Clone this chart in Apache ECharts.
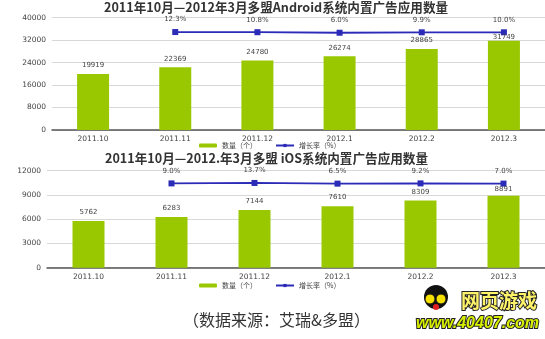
<!DOCTYPE html>
<html><head><meta charset="utf-8">
<script src="https://cdn.jsdelivr.net/npm/echarts@6/dist/echarts.min.js"></script>
<style>html,body{margin:0;padding:0;background:#fff}#c{width:545px;height:339px}</style>
</head><body><div id="c"></div>
<script>
const categories = ['2011.10','2011.11','2011.12','2012.1','2012.2','2012.3'];
const androidCounts = [19919,22369,24780,26274,28865,31749];
const androidGrowth = [null,12.3,10.8,6.0,9.9,10.0];
const iosCounts = [5762,6283,7144,7610,8309,8891];
const iosGrowth = [null,9.0,13.7,6.5,9.2,7.0];
const androidAxis = {min:0,max:40000,interval:8000};
const iosAxis = {min:0,max:12000,interval:3000};
const titleTop = '2011年10月—2012年3月多盟Android系统内置广告应用数量';
const titleBottom = '2011年10月—2012.年3月多盟 iOS系统内置广告应用数量';
const legendNames = ['数量（个）','增长率（%）'];
const sourceText = '（数据来源：艾瑞&多盟）';

const FONT = 'DejaVu Sans';
const CJK = 'Noto Sans CJK SC';
const GREEN = '#99c800';
const BLUE = '#2b2bb8';

function xAx(gi){
  return {type:'category',gridIndex:gi,data:categories,
    axisLine:{lineStyle:{color:'#555',width:1.5}},axisTick:{show:false},
    axisLabel:{color:'#444',fontSize:7.5,fontFamily:FONT,margin:5}};
}
function yAx(gi,a){
  return {type:'value',gridIndex:gi,min:a.min,max:a.max,interval:a.interval,
    axisLine:{show:false},axisTick:{show:false},
    axisLabel:{color:'#444',fontSize:7.5,fontFamily:FONT,margin:6,formatter:v=>String(v)},
    splitLine:{lineStyle:{color:'#d8d8d8',width:1}}};
}
function hidAx(gi){
  return {type:'value',gridIndex:gi,show:false,min:-860,max:140,splitLine:{show:false}};
}
function barS(xi,yi,d,lastDist){
  const items = d.map((v,i)=> i===d.length-1 ? {value:v,label:{distance:lastDist}} : v);
  return {name:legendNames[0],type:'bar',xAxisIndex:xi,yAxisIndex:yi,data:items,barWidth:32,z:5,
    itemStyle:{color:GREEN},
    label:{show:true,position:'top',distance:5,color:'#444',fontSize:7,fontFamily:FONT}};
}
function lineS(xi,yi,d){
  return {name:legendNames[1],type:'line',xAxisIndex:xi,yAxisIndex:yi,data:d,z:1,
    symbol:'rect',symbolSize:6,lineStyle:{color:BLUE,width:1.8},itemStyle:{color:BLUE},
    label:{show:true,position:'top',distance:6,color:'#444',fontSize:7,fontFamily:FONT,
      formatter:p=>p.value==null?'':p.value.toFixed(1)+'%'}};
}
function legend(top){
  return {left:199,top:top,padding:0,itemWidth:18,itemHeight:4,itemGap:18,data:legendNames,
    textStyle:{fontSize:7,color:'#444',fontFamily:CJK}};
}
const chart = echarts.init(document.getElementById('c'),null,{renderer:'canvas'});
chart.setOption({
  animation:false,
  title:[
    {text:titleTop,left:104,top:1,padding:0,textStyle:{fontSize:12.6,fontWeight:'bold',color:'#333',fontFamily:CJK}},
    {text:titleBottom,left:105,top:152,padding:0,textStyle:{fontSize:12.6,fontWeight:'bold',color:'#333',fontFamily:CJK}}
  ],
  legend:[legend(142),legend(282)],
  grid:[
    {left:52,top:17.7,width:494,height:112.3},
    {left:47,top:170.7,width:500,height:97}
  ],
  xAxis:[xAx(0),xAx(1)],
  yAxis:[yAx(0,androidAxis),hidAx(0),yAx(1,iosAxis),hidAx(1)],
  series:[barS(0,0,androidCounts,0),lineS(0,1,androidGrowth),barS(1,2,iosCounts,3),lineS(1,3,iosGrowth)],
  graphic:[
    {type:'text',left:183,top:312,style:{text:sourceText,fontSize:16,fill:'#333',fontFamily:CJK}},
    {type:'group',left:415,top:285,children:[
      {type:'circle',shape:{cx:18,cy:13,r:12},style:{fill:'#111'}},
      {type:'circle',shape:{cx:12,cy:15,r:5},style:{fill:'#f5e000',stroke:'#111',lineWidth:1}},
      {type:'circle',shape:{cx:23,cy:15,r:5},style:{fill:'#f5e000',stroke:'#111',lineWidth:1}},
      {type:'circle',shape:{cx:18,cy:23,r:3},style:{fill:'#e02020'}},
      {type:'text',x:43,y:7,style:{text:'网页游戏',fontSize:19,fontWeight:'bold',fill:'#fff36a',stroke:'#222',lineWidth:2,fontFamily:CJK}},
      {type:'text',x:-2,y:32,style:{text:'www.40407.com',fontSize:16,fontWeight:'bold',fontStyle:'italic',fill:'#d8f000',stroke:'#222',lineWidth:2,fontFamily:'Liberation Sans'}}
    ]}
  ]
});
</script></body></html>
